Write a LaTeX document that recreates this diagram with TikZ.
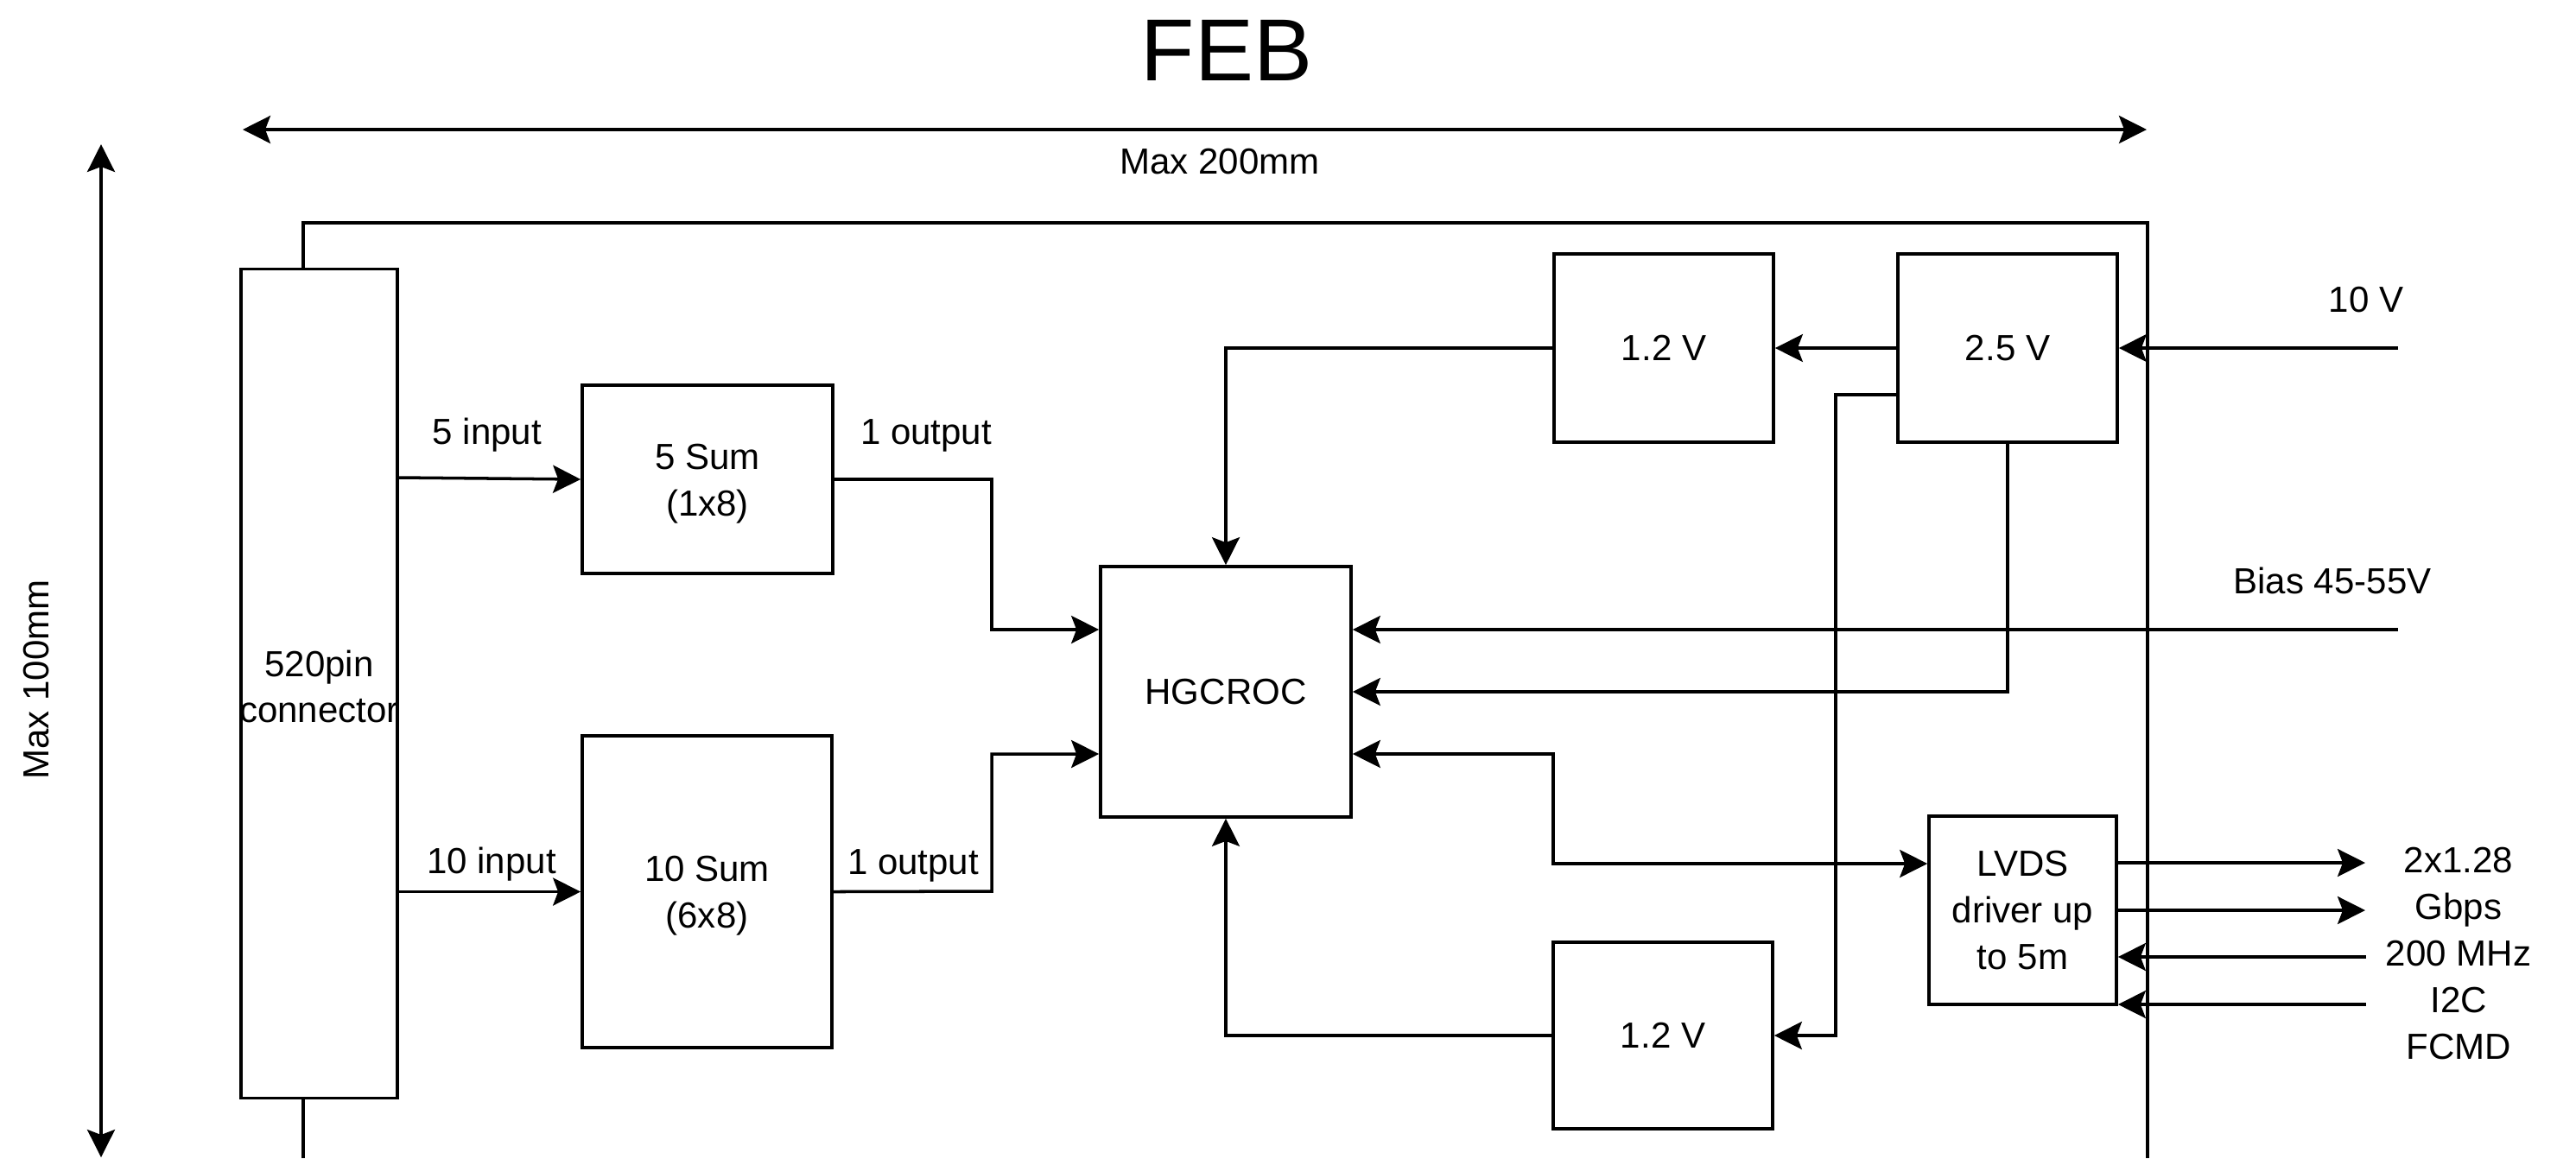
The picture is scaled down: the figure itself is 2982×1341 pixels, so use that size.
\documentclass[tikz,border=0pt]{standalone}
\usepackage{fontspec}
\setmainfont{Liberation Sans}
\usetikzlibrary{arrows.meta,calc}
\begin{document}
\begin{tikzpicture}[x=0.01cm,y=-0.01cm,
  every node/.style={font=\fontsize{11.95pt}{15.3pt}\selectfont, inner sep=0pt, align=center},
  blk/.style={draw, fill=white, line width=1pt},
  ln/.style={line width=1pt},
  arr/.style={ln, -{Stealth[length=9.1pt,width=9.1pt,inset=1.7pt]}},
  darr/.style={ln, {Stealth[length=9.1pt,width=9.1pt,inset=1.7pt]}-{Stealth[length=9.1pt,width=9.1pt,inset=1.7pt]}}]
\useasboundingbox (0,0) rectangle (2982,1341);
\fill[white] (0,0) rectangle (2982,1341);

% board outline
\coordinate (bl) at (351,1341);
\coordinate (btl) at (351,258);
\coordinate (btr) at (2486,258);
\coordinate (bbr) at (2486,1341);
\draw[ln] (bl) -- (btl) -- (btr) -- (bbr);

% dimension arrows
\coordinate (dl) at (281,150);
\coordinate (dr) at (2485,150);
\coordinate (dt) at (117,167);
\coordinate (db) at (117,1340);
\draw[darr] (dl) -- (dr);
\draw[darr] (dt) -- (db);
\node[font=\fontsize{29pt}{34pt}\selectfont] (feb) at (1420,58) {FEB};
\node (w) at (1412,187) {Max 200mm};
\node[rotate=90] (h) at (42,787) {Max 100mm};

% blocks
\node[blk, minimum width=1.81cm, minimum height=9.59cm] (conn) at (369.5,791.5) {};
\node (conntxt) at (369.5,795) {520pin\\connector};
\node[blk, minimum width=2.90cm, minimum height=2.18cm] (sum5) at (819,555) {};
\node (sum5txt) at (819,560) {5 Sum\\(1x8)};
\node[blk, minimum width=2.89cm, minimum height=3.61cm] (sum10) at (818.5,1032.5) {};
\node (sum10txt) at (818.5,1037) {10 Sum\\(6x8)};
\node[blk, minimum width=2.90cm, minimum height=2.90cm] (hg) at (1419,801) {HGCROC};
\node[blk, minimum width=2.54cm, minimum height=2.18cm] (v12a) at (1926,403) {1.2 V};
\node[blk, minimum width=2.54cm, minimum height=2.18cm] (v25) at (2324,403) {2.5 V};
\node[blk, minimum width=2.54cm, minimum height=2.16cm] (v12b) at (1925,1199) {1.2 V};
\node[blk, minimum width=2.17cm, minimum height=2.18cm] (lvds) at (2341.5,1054) {LVDS\\driver up\\to 5m};

% input side
\draw[arr] (conn.east |- 0,553) -- (sum5.west);
\draw[arr] (conn.east |- sum10.west) -- (sum10.west);
\node (in5) at (564,504) {5 input};
\node (in10) at (569,1001) {10 input};
\draw[arr] (sum5.east) -- (1148,555) |- (hg.west |- 0,729);
\draw[arr] (sum10.east) -- (1148,1032) |- (hg.west |- 0,873);
\node (out1) at (1072,504) {1 output};
\node (out2) at (1057,1002) {1 output};

% power
\coordinate (in10v) at (2776,403);
\coordinate (inbias) at (2776,729);
\draw[arr] (in10v) -- (v25.east);
\node (l10v) at (2739,347) {10 V};
\draw[arr] (v25.west) -- (v12a.east);
\draw[arr] (v12a.west) -| (hg.north);
\draw[arr] (v25.west |- 0,457) -- (2125,457) -- (2125,1199) -- (v12b.east);
\draw[arr] (v25.south) |- (hg.east);
\draw[arr] (inbias) -- (hg.east |- inbias);
\node (lbias) at (2700,672) {Bias 45-55V};
\draw[arr] (v12b.west) -| (hg.south);

% data
\draw[darr] (hg.east |- 0,873) -- (1798,873) -- (1798,1000) -- (lvds.west |- 0,1000);
\coordinate (o1) at (2738,999);
\coordinate (o2) at (2738,1054);
\coordinate (i1) at (2739,1108);
\coordinate (i2) at (2739,1163);
\draw[arr] (lvds.east |- o1) -- (o1);
\draw[arr] (lvds.east |- o2) -- (o2);
\draw[arr] (i1) -- (lvds.east |- i1);
\draw[arr] (i2) -- (lvds.east |- i2);
\node (lio) at (2846,1104) {2x1.28\\Gbps\\200 MHz\\I2C\\FCMD};
\end{tikzpicture}
\end{document}
